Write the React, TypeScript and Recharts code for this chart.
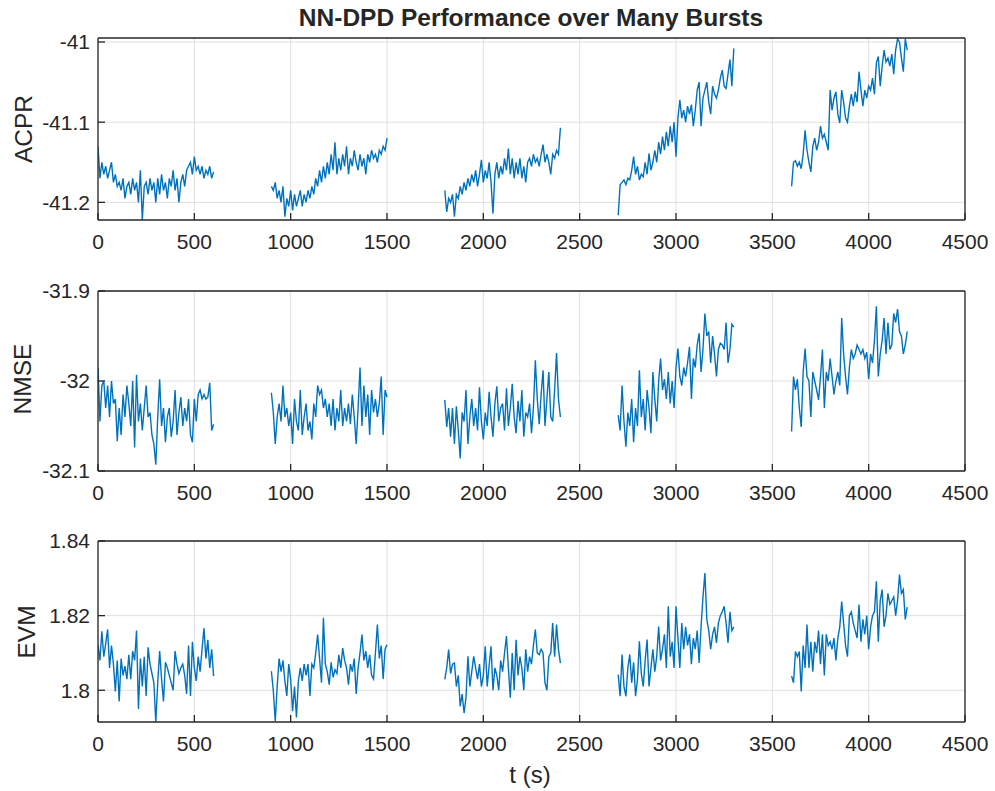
import { LineChart, Line, XAxis, YAxis, CartesianGrid, ReferenceLine } from "recharts";

const BURST_STARTS = [0, 900, 1800, 2700, 3600];
const STEP = 10;
const X_TICKS = [0, 500, 1000, 1500, 2000, 2500, 3000, 3500, 4000, 4500];

// ACPR, one array per burst, sampled every 10 s
const acpr1 = [-41.13, -41.17, -41.15, -41.165, -41.155, -41.17, -41.16, -41.15, -41.175, -41.165, -41.18, -41.175, -41.185, -41.17, -41.195, -41.18, -41.175, -41.19, -41.17, -41.185, -41.175, -41.2, -41.16, -41.222, -41.18, -41.175, -41.19, -41.17, -41.185, -41.175, -41.2, -41.17, -41.19, -41.165, -41.185, -41.175, -41.195, -41.17, -41.18, -41.16, -41.185, -41.17, -41.2, -41.175, -41.165, -41.18, -41.16, -41.155, -41.15, -41.165, -41.143, -41.16, -41.155, -41.165, -41.155, -41.17, -41.16, -41.165, -41.155, -41.17, -41.162];
const acpr2 = [-41.18, -41.185, -41.175, -41.195, -41.185, -41.2, -41.18, -41.218, -41.195, -41.205, -41.185, -41.21, -41.19, -41.205, -41.195, -41.185, -41.205, -41.19, -41.2, -41.185, -41.195, -41.18, -41.19, -41.17, -41.18, -41.16, -41.175, -41.155, -41.17, -41.15, -41.165, -41.14, -41.16, -41.125, -41.165, -41.145, -41.16, -41.14, -41.155, -41.13, -41.165, -41.145, -41.155, -41.135, -41.15, -41.16, -41.14, -41.155, -41.145, -41.165, -41.14, -41.15, -41.135, -41.145, -41.14, -41.15, -41.135, -41.14, -41.13, -41.135, -41.12];
const acpr3 = [-41.185, -41.212, -41.195, -41.2, -41.19, -41.218, -41.19, -41.195, -41.18, -41.19, -41.175, -41.185, -41.17, -41.18, -41.165, -41.175, -41.16, -41.18, -41.165, -41.147, -41.175, -41.16, -41.17, -41.15, -41.175, -41.214, -41.165, -41.15, -41.17, -41.155, -41.165, -41.145, -41.16, -41.133, -41.165, -41.145, -41.17, -41.15, -41.165, -41.145, -41.17, -41.155, -41.175, -41.15, -41.145, -41.155, -41.14, -41.15, -41.145, -41.155, -41.14, -41.128, -41.15, -41.14, -41.15, -41.165, -41.14, -41.145, -41.135, -41.14, -41.107];
const acpr4 = [-41.216, -41.178, -41.175, -41.172, -41.178, -41.17, -41.172, -41.16, -41.143, -41.165, -41.155, -41.172, -41.165, -41.168, -41.15, -41.165, -41.139, -41.16, -41.15, -41.135, -41.15, -41.125, -41.14, -41.118, -41.135, -41.112, -41.13, -41.105, -41.125, -41.1, -41.143, -41.095, -41.072, -41.095, -41.085, -41.1, -41.08, -41.09, -41.078, -41.105, -41.085, -41.06, -41.05, -41.105, -41.07, -41.06, -41.05, -41.075, -41.09, -41.055, -41.065, -41.07, -41.06, -41.045, -41.035, -41.055, -41.058, -41.04, -41.022, -41.055, -41.008];
const acpr5 = [-41.18, -41.15, -41.148, -41.155, -41.15, -41.158, -41.14, -41.11, -41.135, -41.15, -41.162, -41.13, -41.12, -41.135, -41.125, -41.105, -41.12, -41.115, -41.125, -41.135, -41.06, -41.085, -41.07, -41.062, -41.09, -41.101, -41.06, -41.075, -41.095, -41.1, -41.08, -41.065, -41.08, -41.062, -41.075, -41.037, -41.06, -41.08, -41.06, -41.07, -41.055, -41.06, -41.045, -41.065, -41.026, -41.018, -41.055, -41.03, -41.01, -41.025, -41.02, -41.03, -41.015, -41.04, -41.01, -40.996, -41.0, -41.02, -41.037, -40.996, -41.01];

// NMSE
const nmse1 = [-31.985, -32.045, -32.005, -32.0, -32.03, -32.005, -32.04, -32.0, -32.025, -32.02, -32.067, -32.03, -32.06, -32.015, -32.04, -32.005, -32.025, -32.05, -32.0, -32.074, -31.993, -32.045, -32.025, -32.055, -32.03, -32.005, -32.04, -32.035, -32.06, -32.07, -32.093, -32.04, -31.998, -32.05, -32.03, -32.068, -32.04, -32.03, -32.062, -32.045, -32.01, -32.06, -32.035, -32.018, -32.05, -32.03, -32.045, -32.02, -32.06, -32.068, -32.02, -32.045, -32.015, -32.01, -32.02, -32.015, -32.02, -32.018, -32.002, -32.055, -32.048];
const nmse2 = [-32.013, -32.035, -32.07, -32.04, -32.025, -32.045, -32.005, -32.04, -32.03, -32.05, -32.035, -32.07, -32.02, -32.045, -32.055, -32.01, -32.06, -32.04, -32.025, -32.055, -32.045, -32.065, -32.025, -32.04, -32.005, -32.015, -32.01, -32.03, -32.02, -32.04, -32.025, -32.05, -32.02, -32.055, -32.03, -32.045, -32.01, -32.05, -32.03, -32.045, -32.025, -32.048, -32.015, -32.04, -32.07, -32.03, -31.985, -32.05, -32.005, -32.04, -32.015, -32.06, -32.01, -32.035, -32.02, -32.04, -32.025, -31.995, -32.06, -32.01, -32.018];
const nmse3 = [-32.021, -32.051, -32.03, -32.062, -32.03, -32.07, -32.028, -32.055, -32.086, -32.035, -32.045, -32.01, -32.07, -32.04, -32.02, -32.05, -32.03, -32.055, -32.007, -32.045, -32.065, -32.035, -32.05, -32.012, -32.04, -32.062, -32.025, -32.006, -32.045, -32.03, -32.025, -32.055, -32.008, -32.05, -32.03, -32.003, -32.04, -32.058, -32.022, -32.045, -32.01, -32.062, -32.035, -32.04, -32.025, -32.058, -32.03, -31.977, -32.02, -32.048, -32.015, -31.988, -32.05, -32.02, -31.99, -32.04, -32.045, -32.01, -31.969, -32.02, -32.04];
const nmse4 = [-32.038, -32.055, -32.005, -32.045, -32.073, -32.035, -32.05, -32.02, -32.068, -32.03, -32.05, -31.988, -32.04, -32.02, -32.055, -32.01, -32.03, -32.058, -31.99, -32.02, -32.045, -32.0, -31.975, -32.01, -31.998, -32.02, -31.99, -32.025, -32.0, -32.03, -31.985, -31.964, -31.995, -32.005, -31.985, -31.995, -31.98, -31.962, -32.02, -31.975, -31.985, -31.96, -31.947, -31.99, -31.965, -31.925, -31.95, -31.945, -31.98, -31.95, -31.97, -31.995, -31.965, -31.958, -31.96, -31.965, -31.935, -31.98, -31.965, -31.937, -31.94];
const nmse5 = [-32.056, -31.995, -32.01, -31.998, -32.03, -32.051, -31.99, -31.964, -31.995, -32.0, -32.04, -31.99, -32.0, -32.01, -32.021, -31.995, -31.965, -32.03, -31.99, -32.0, -31.975, -31.995, -32.015, -32.0, -31.99, -32.005, -31.93, -31.97, -31.995, -32.015, -31.985, -31.965, -31.975, -31.97, -31.96, -31.965, -31.97, -31.965, -31.975, -31.968, -31.998, -31.97, -31.98, -31.955, -31.917, -31.995, -31.97, -31.955, -31.93, -31.97, -31.935, -31.965, -31.96, -31.925, -31.935, -31.92, -31.945, -31.95, -31.97, -31.96, -31.945];

// EVM
const evm1 = [1.8122, 1.808, 1.8158, 1.809, 1.8125, 1.8163, 1.806, 1.812, 1.807, 1.7997, 1.808, 1.797, 1.8085, 1.804, 1.8065, 1.803, 1.8095, 1.803, 1.8105, 1.808, 1.816, 1.795, 1.8085, 1.801, 1.809, 1.7985, 1.8115, 1.807, 1.8045, 1.802, 1.7915, 1.802, 1.8105, 1.803, 1.797, 1.8075, 1.806, 1.804, 1.802, 1.8, 1.8105, 1.807, 1.8045, 1.806, 1.807, 1.804, 1.799, 1.812, 1.7985, 1.813, 1.806, 1.8025, 1.809, 1.805, 1.811, 1.8167, 1.8085, 1.8135, 1.806, 1.811, 1.8038];
const evm2 = [1.8051, 1.7998, 1.7917, 1.801, 1.8085, 1.805, 1.808, 1.8025, 1.7985, 1.807, 1.803, 1.7944, 1.801, 1.7927, 1.8025, 1.806, 1.8025, 1.807, 1.804, 1.807, 1.7985, 1.807, 1.806, 1.81, 1.8149, 1.8085, 1.802, 1.8194, 1.807, 1.805, 1.8015, 1.8075, 1.8035, 1.8055, 1.8045, 1.8095, 1.806, 1.8113, 1.808, 1.806, 1.8015, 1.807, 1.805, 1.8085, 1.799, 1.806, 1.81, 1.8149, 1.808, 1.8105, 1.806, 1.8095, 1.804, 1.803, 1.81, 1.8176, 1.8085, 1.812, 1.803, 1.811, 1.8122];
const evm3 = [1.8029, 1.806, 1.8109, 1.8045, 1.807, 1.8073, 1.801, 1.804, 1.7957, 1.799, 1.7939, 1.798, 1.8091, 1.801, 1.805, 1.8091, 1.806, 1.803, 1.807, 1.801, 1.804, 1.8118, 1.801, 1.8065, 1.8118, 1.8, 1.806, 1.804, 1.8, 1.808, 1.805, 1.81, 1.8145, 1.806, 1.798, 1.81, 1.8, 1.8135, 1.804, 1.809, 1.806, 1.8, 1.811, 1.805, 1.809, 1.807, 1.812, 1.8163, 1.81, 1.8095, 1.811, 1.81, 1.802, 1.8, 1.809, 1.81, 1.818, 1.809, 1.8176, 1.811, 1.8073];
const evm4 = [1.8042, 1.7984, 1.8096, 1.801, 1.7984, 1.806, 1.8096, 1.802, 1.8075, 1.7984, 1.803, 1.8131, 1.8045, 1.801, 1.808, 1.8136, 1.801, 1.806, 1.811, 1.805, 1.809, 1.8171, 1.808, 1.811, 1.815, 1.806, 1.8225, 1.809, 1.813, 1.806, 1.8225, 1.814, 1.806, 1.818, 1.811, 1.817, 1.812, 1.815, 1.807, 1.814, 1.811, 1.816, 1.8073, 1.817, 1.825, 1.8314, 1.819, 1.816, 1.811, 1.815, 1.817, 1.8127, 1.818, 1.82, 1.821, 1.8225, 1.818, 1.8127, 1.821, 1.816, 1.817];
const evm5 = [1.8038, 1.802, 1.8104, 1.809, 1.8104, 1.7997, 1.812, 1.806, 1.8176, 1.806, 1.813, 1.805, 1.813, 1.81, 1.816, 1.807, 1.815, 1.804, 1.815, 1.812, 1.813, 1.811, 1.814, 1.808, 1.814, 1.817, 1.8238, 1.818, 1.812, 1.809, 1.82, 1.821, 1.818, 1.816, 1.814, 1.823, 1.813, 1.819, 1.815, 1.82, 1.811, 1.817, 1.82, 1.821, 1.8292, 1.813, 1.824, 1.827, 1.817, 1.82, 1.826, 1.823, 1.824, 1.825, 1.82, 1.824, 1.831, 1.826, 1.827, 1.819, 1.8223];

const FONT = "'Liberation Sans', Arial, Helvetica, sans-serif";
const INK = "#262626";
const GRID = "#dfdfdf";
const BLUE = "#0072bd";

type Row = { t: number; v: number | null };

function buildRows(bursts: number[][]): Row[] {
  const rows: Row[] = [];
  bursts.forEach((vals, k) => {
    vals.forEach((v, i) => rows.push({ t: BURST_STARTS[k] + i * STEP, v }));
    // null point breaks the line between bursts
    if (k < bursts.length - 1) rows.push({ t: BURST_STARTS[k] + 750, v: null });
  });
  return rows;
}

const fmt = (v: number) => String(+v.toFixed(2));

function Panel({ rows, domain, ticks, plotTop, plotHeight }: {
  rows: Row[]; domain: [number, number]; ticks: number[]; plotTop: number; plotHeight: number;
}) {
  const mt = 16;
  const xh = 48;
  const tickStyle = { fill: INK, fontSize: 21, fontFamily: FONT };
  return (
    <div style={{ position: "absolute", left: 0, top: plotTop - mt }}>
      <LineChart width={995} height={mt + plotHeight + xh} data={rows}
        margin={{ top: mt, right: 30, bottom: 0, left: 0 }}>
        <CartesianGrid xAxisId="b" yAxisId="l" stroke={GRID} strokeWidth={1}
          horizontalValues={ticks} verticalValues={X_TICKS} />
        <XAxis xAxisId="b" dataKey="t" type="number" domain={[0, 4500]} ticks={X_TICKS}
          allowDataOverflow height={xh} axisLine={false} tickLine={{ stroke: INK, strokeWidth: 1.3 }}
          tickSize={-7} tickMargin={21} tick={tickStyle} interval={0} />
        <XAxis xAxisId="t" dataKey="t" type="number" domain={[0, 4500]} ticks={X_TICKS}
          orientation="top" height={0} axisLine={false} tickLine={{ stroke: INK, strokeWidth: 1.3 }}
          tickSize={-7} tick={() => <g />} interval={0} />
        <YAxis yAxisId="l" type="number" domain={domain} ticks={ticks} allowDataOverflow width={98}
          axisLine={false} tickLine={{ stroke: INK, strokeWidth: 1.3 }} tickSize={-7} tickMargin={15}
          tickFormatter={fmt} tick={tickStyle} interval={0} />
        <YAxis yAxisId="r" type="number" domain={domain} ticks={ticks} orientation="right"
          width={0} axisLine={false} tickLine={{ stroke: INK, strokeWidth: 1.3 }} tickSize={-7}
          tick={() => <g />} interval={0} />
        <Line xAxisId="b" yAxisId="l" dataKey="v" stroke={BLUE} strokeWidth={1.4} dot={false}
          isAnimationActive={false} connectNulls={false} />
        {/* box frame */}
        <ReferenceLine xAxisId="b" yAxisId="l" x={0} stroke={INK} strokeWidth={1.3} ifOverflow="visible" />
        <ReferenceLine xAxisId="b" yAxisId="l" x={4500} stroke={INK} strokeWidth={1.3} ifOverflow="visible" />
        <ReferenceLine xAxisId="b" yAxisId="l" y={domain[0]} stroke={INK} strokeWidth={1.3} ifOverflow="visible" />
        <ReferenceLine xAxisId="b" yAxisId="l" y={domain[1]} stroke={INK} strokeWidth={1.3} ifOverflow="visible" />
      </LineChart>
    </div>
  );
}

export default function App() {
  const acpr = buildRows([acpr1, acpr2, acpr3, acpr4, acpr5]);
  const nmse = buildRows([nmse1, nmse2, nmse3, nmse4, nmse5]);
  const evm = buildRows([evm1, evm2, evm3, evm4, evm5]);
  return (
    <div style={{ position: "relative", width: 995, height: 791, background: "#fff", fontFamily: FONT }}>
      <style>{"body{margin:0}"}</style>
      <Panel rows={acpr} domain={[-41.222, -40.995]} ticks={[-41.2, -41.1, -41]} plotTop={38} plotHeight={182} />
      <Panel rows={nmse} domain={[-32.1, -31.9]} ticks={[-32.1, -32, -31.9]} plotTop={291} plotHeight={180} />
      <Panel rows={evm} domain={[1.7915, 1.84]} ticks={[1.8, 1.82, 1.84]} plotTop={541} plotHeight={181} />
      <svg width={995} height={791} style={{ position: "absolute", left: 0, top: 0, pointerEvents: "none" }}>
        <g fill={INK} fontFamily={FONT}>
          <text x={531} y={26} fontSize={24.5} fontWeight="bold" textAnchor="middle">NN-DPD Performance over Many Bursts</text>
          <text x={530} y={783} fontSize={24} textAnchor="middle">t (s)</text>
          <text transform="translate(32,129) rotate(-90)" fontSize={24.5} textAnchor="middle">ACPR</text>
          <text transform="translate(31,379) rotate(-90)" fontSize={24.5} textAnchor="middle">NMSE</text>
          <text transform="translate(35,632) rotate(-90)" fontSize={24.5} textAnchor="middle">EVM</text>
        </g>
      </svg>
    </div>
  );
}
